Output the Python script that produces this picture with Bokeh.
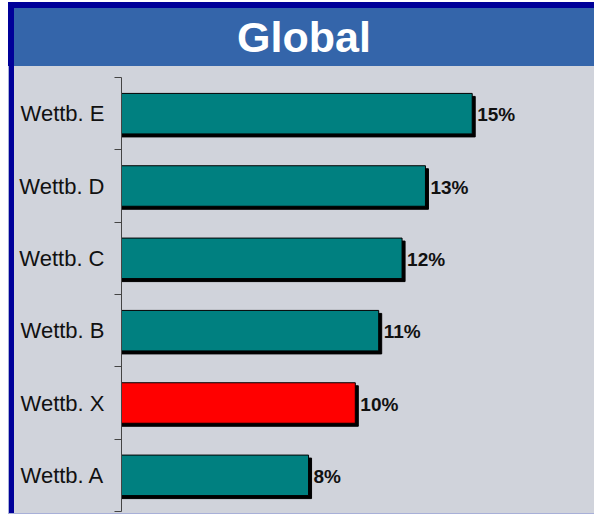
from bokeh.plotting import figure
from bokeh.models import Div, FixedTicker, ColumnDataSource
from bokeh.layouts import column, row
from bokeh.embed import file_html
from bokeh.resources import INLINE
from bokeh.core.properties import value

# ---- data ----
categories = ["Wettb. A", "Wettb. X", "Wettb. B", "Wettb. C", "Wettb. D", "Wettb. E"]
shares = [8, 10, 11, 12, 13, 15]
bar_colors = ["#008080", "#FF0000", "#008080", "#008080", "#008080", "#008080"]
value_labels = ["8%", "10%", "11%", "12%", "13%", "15%"]
title_text = "Global"

# ---- geometry / style ----
FONT = "Liberation Sans"
BG = "#D0D3DB"
NAVY = "#000099"
BLUE = "#3465AA"
LIGHT = "#A8B0D8"

fig_w, fig_h = 580, 447
min_left, min_top, min_bottom = 107, 11, 2
frame_w = fig_w - min_left
frame_h = fig_h - min_top - min_bottom
x_end = 20.23
n = len(categories)
px_x = x_end / frame_w
px_y = n / frame_h

centers = [i + 0.5 for i in range(n)]
bar_h = 0.56

src = ColumnDataSource(dict(
    y=centers,
    right=shares,
    color=bar_colors,
    label=value_labels,
    shadow_right=[s + 3 * px_x for s in shares],
    shadow_y=[c - 3 * px_y for c in centers],
))

p = figure(width=fig_w, height=fig_h, output_backend="svg", toolbar_location=None,
           x_range=(0, x_end), y_range=(0, n), x_axis_location=None,
           min_border_left=min_left, min_border_right=0,
           min_border_top=min_top, min_border_bottom=min_bottom, margin=0,
           styles={"background-color": BG})
p.background_fill_color = BG
p.border_fill_color = BG
p.outline_line_color = None
p.xgrid.visible = False
p.ygrid.visible = False

# shadow
p.hbar(y="shadow_y", left=0, right="shadow_right", height=bar_h, source=src,
       fill_color="black", line_color="black")
# bars
p.hbar(y="y", left=0, right="right", height=bar_h, source=src,
       fill_color="color", line_color="black", line_width=1)
# value labels
p.text(x="shadow_right", y="y", text="label", source=src, x_offset=2,
       y_offset=1, text_baseline="middle", text_align="left",
       text_font=value(FONT), text_font_style="bold", text_font_size="19px",
       text_color="#111111")

ax = p.yaxis[0]
ax.ticker = FixedTicker(ticks=centers, minor_ticks=list(range(n + 1)))
ax.major_label_overrides = {c: lab for c, lab in zip(centers, categories)}
ax.major_tick_out = 0
ax.major_tick_in = 0
ax.major_tick_line_color = None
ax.minor_tick_out = 7
ax.minor_tick_in = 0
ax.minor_tick_line_color = "#444444"
ax.axis_line_color = "#444444"
ax.major_label_standoff = 10
ax.major_label_text_font = FONT
ax.major_label_text_font_size = "22px"
ax.major_label_text_color = "#111111"

title_html = (
    f'<div style="width:586px;height:64px;box-sizing:border-box;margin:0;'
    f'border-top:6px solid {NAVY};border-left:6px solid {NAVY};'
    f'background:{BLUE};color:#ffffff;'
    f"font-family:'{FONT}';font-weight:bold;font-size:43px;"
    f'text-align:center;line-height:58px;">{title_text}</div>'
)
title_div = Div(text=title_html, width=586, height=64, margin=0,
                styles={"background-color": BLUE, "overflow": "hidden"})

strip_div = Div(text=(f'<div style="width:6px;height:{fig_h}px;box-sizing:border-box;margin:0;'
                      f'border-left:1px solid {LIGHT};background:{NAVY};"></div>'),
                width=6, height=fig_h, margin=0,
                styles={"background-color": NAVY, "overflow": "hidden"})
bottom_div = Div(text=f'<div style="width:586px;height:1px;margin:0;background:{LIGHT};"></div>',
                 width=586, height=1, margin=0,
                 styles={"background-color": LIGHT, "overflow": "hidden"})

layout = column(title_div, row(strip_div, p, spacing=0, margin=0), bottom_div,
                spacing=0, margin=(2, 0, 0, 8))

open("out.html", "w").write(file_html(layout, INLINE))
